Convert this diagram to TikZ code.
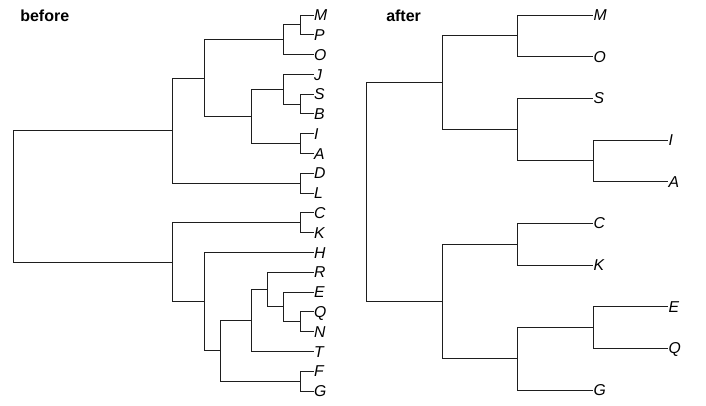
\documentclass[tikz,border=0pt]{standalone}
\usepackage{fontspec}
\setmainfont{Liberation Sans}
\begin{document}
\begin{tikzpicture}[x=0.75pt,y=0.75pt,yscale=-1,xscale=1,
  branch/.style={draw={rgb, 255:red, 30; green, 30; blue, 30 },line width=0.75pt},
  leaf/.style={anchor=west,inner sep=0.3pt,text height=8.4pt,text depth=0pt,font=\itshape\fontsize{11.8}{13}\selectfont},
  title/.style={anchor=base west,inner sep=0pt,font=\bfseries\fontsize{12}{14}\selectfont}]
\path[use as bounding box] (0,0) rectangle (706,405);

%Titles
\node[title] (tBefore) at (20,21.5) {before};
\node[title] (tAfter) at (386,21.5) {after};

%Leaves: before
\node[leaf] (lM) at (313.5,15) {M};
\node[leaf] (lP) at (313.5,34.8) {P};
\node[leaf] (lO) at (313.5,54.6) {O};
\node[leaf] (lJ) at (313.5,74.4) {J};
\node[leaf] (lS) at (313.5,94.2) {S};
\node[leaf] (lB) at (313.5,113.9) {B};
\node[leaf] (lI) at (313.5,133.7) {I};
\node[leaf] (lA) at (313.5,153.5) {A};
\node[leaf] (lD) at (313.5,173.3) {D};
\node[leaf] (lL) at (313.5,193.1) {L};
\node[leaf] (lC) at (313.5,212.9) {C};
\node[leaf] (lK) at (313.5,232.7) {K};
\node[leaf] (lH) at (313.5,252.5) {H};
\node[leaf] (lR) at (313.5,272.3) {R};
\node[leaf] (lE) at (313.5,292.1) {E};
\node[leaf] (lQ) at (313.5,311.9) {Q};
\node[leaf] (lN) at (313.5,331.6) {N};
\node[leaf] (lT) at (313.5,351.4) {T};
\node[leaf] (lF) at (313.5,371.2) {F};
\node[leaf] (lG) at (313.5,391) {G};

%Inner nodes: before
\coordinate (lMP) at (300,24.9);
\coordinate (lMPO) at (283,39.75);
\coordinate (lSB) at (300,104.05);
\coordinate (lJSB) at (283,89.2);
\coordinate (lIA) at (300,143.6);
\coordinate (lJSBIA) at (251,116.4);
\coordinate (lMJ) at (204,78.1);
\coordinate (lDL) at (300,183.2);
\coordinate (lTop) at (172,130.6);
\coordinate (lCK) at (300,222.8);
\coordinate (lQN) at (300,321.75);
\coordinate (lEQN) at (283,306.9);
\coordinate (lREQN) at (267,289.6);
\coordinate (lREQNT) at (251,320.5);
\coordinate (lFG) at (300,381.1);
\coordinate (lRFG) at (220,350.8);
\coordinate (lHR) at (204,301.65);
\coordinate (lBot) at (172,262.2);
\coordinate (lRoot) at (13,196.4);

%Branches: before
\draw[branch] (lRoot) |- (lTop);
\draw[branch] (lRoot) |- (lBot);
\draw[branch] (lTop) |- (lMJ);
\draw[branch] (lTop) |- (lDL);
\draw[branch] (lMJ) |- (lMPO);
\draw[branch] (lMJ) |- (lJSBIA);
\draw[branch] (lMPO) |- (lMP);
\draw[branch] (lMPO) |- (lO.west);
\draw[branch] (lMP) |- (lM.west);
\draw[branch] (lMP) |- (lP.west);
\draw[branch] (lJSBIA) |- (lJSB);
\draw[branch] (lJSBIA) |- (lIA);
\draw[branch] (lJSB) |- (lJ.west);
\draw[branch] (lJSB) |- (lSB);
\draw[branch] (lSB) |- (lS.west);
\draw[branch] (lSB) |- (lB.west);
\draw[branch] (lIA) |- (lI.west);
\draw[branch] (lIA) |- (lA.west);
\draw[branch] (lDL) |- (lD.west);
\draw[branch] (lDL) |- (lL.west);
\draw[branch] (lBot) |- (lCK);
\draw[branch] (lBot) |- (lHR);
\draw[branch] (lCK) |- (lC.west);
\draw[branch] (lCK) |- (lK.west);
\draw[branch] (lHR) |- (lH.west);
\draw[branch] (lHR) |- (lRFG);
\draw[branch] (lRFG) |- (lREQNT);
\draw[branch] (lRFG) |- (lFG);
\draw[branch] (lREQNT) |- (lREQN);
\draw[branch] (lREQNT) |- (lT.west);
\draw[branch] (lREQN) |- (lR.west);
\draw[branch] (lREQN) |- (lEQN);
\draw[branch] (lEQN) |- (lE.west);
\draw[branch] (lEQN) |- (lQN);
\draw[branch] (lQN) |- (lQ.west);
\draw[branch] (lQN) |- (lN.west);
\draw[branch] (lFG) |- (lF.west);
\draw[branch] (lFG) |- (lG.west);

%Leaves: after
\node[leaf] (rM) at (593,15) {M};
\node[leaf] (rO) at (593,56.67) {O};
\node[leaf] (rS) at (593,98.33) {S};
\node[leaf] (rI) at (668,140) {I};
\node[leaf] (rA) at (668,181.67) {A};
\node[leaf] (rC) at (593,223.33) {C};
\node[leaf] (rK) at (593,265) {K};
\node[leaf] (rE) at (668,306.67) {E};
\node[leaf] (rQ) at (668,348.33) {Q};
\node[leaf] (rG) at (593,390) {G};

%Inner nodes: after
\coordinate (rMO) at (517,35.83);
\coordinate (rIA) at (593,160.83);
\coordinate (rSIA) at (517,129.58);
\coordinate (rTop) at (442,82.7);
\coordinate (rCK) at (517,244.17);
\coordinate (rEQ) at (593,327.5);
\coordinate (rEQG) at (517,358.75);
\coordinate (rBot) at (442,301.46);
\coordinate (rRoot) at (366,192.08);

%Branches: after
\draw[branch] (rRoot) |- (rTop);
\draw[branch] (rRoot) |- (rBot);
\draw[branch] (rTop) |- (rMO);
\draw[branch] (rTop) |- (rSIA);
\draw[branch] (rMO) |- (rM.west);
\draw[branch] (rMO) |- (rO.west);
\draw[branch] (rSIA) |- (rS.west);
\draw[branch] (rSIA) |- (rIA);
\draw[branch] (rIA) |- (rI.west);
\draw[branch] (rIA) |- (rA.west);
\draw[branch] (rBot) |- (rCK);
\draw[branch] (rBot) |- (rEQG);
\draw[branch] (rCK) |- (rC.west);
\draw[branch] (rCK) |- (rK.west);
\draw[branch] (rEQG) |- (rEQ);
\draw[branch] (rEQG) |- (rG.west);
\draw[branch] (rEQ) |- (rE.west);
\draw[branch] (rEQ) |- (rQ.west);

\end{tikzpicture}
\end{document}
